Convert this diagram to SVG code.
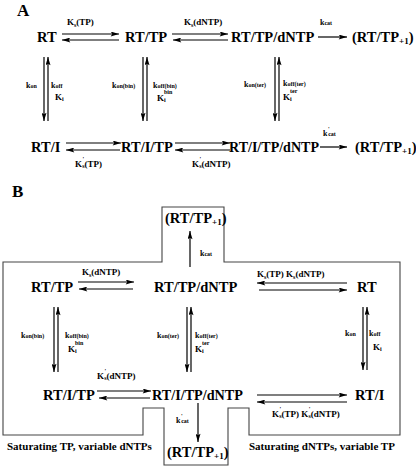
<svg xmlns="http://www.w3.org/2000/svg" width="416" height="468" viewBox="0 0 416 468">
<style>
text{font-family:"Liberation Serif","Times New Roman",serif;font-weight:bold;fill:#000}
.h{font-size:17px}
.n{font-size:14.5px}
.l{font-size:9px}
.k{font-size:8px}
.sb{font-size:6px}
.p{font-size:9px}
.ln{stroke:#000;stroke-width:1.2;fill:none;marker-end:url(#ah)}
.box{stroke:#444;stroke-width:1.1;fill:none}
.cap{font-size:11px}
</style>
<defs>
<marker id="ah" viewBox="0 0 10 6" refX="10" refY="3" markerWidth="9" markerHeight="5" markerUnits="userSpaceOnUse" orient="auto">
<path d="M0,0 L10,3 L0,6 L2,3 Z" fill="#000"/>
</marker>
</defs>
<rect width="416" height="468" fill="#fff"/>

<text class="h" x="17" y="16">A</text>
<text class="h" x="12" y="197">B</text>

<path class="box" d="M162,262 L162,207 L224,207 L224,262 L400,262 L400,435 L249,435 L249,408 L228,408 L228,465 L164,465 L164,408 L143,408 L143,435 L3,435 L3,262 Z"/>

<!-- Nodes A -->
<g id="a-rt"><text class="n" x="37" y="42">RT</text></g>
<g id="a-rttp"><text class="n" x="125" y="42">RT/TP</text></g>
<g id="a-rttpdntp"><text class="n" x="231" y="42">RT/TP/dNTP</text></g>
<g id="a-prod1"><text class="n" x="352" y="42">(RT/TP<tspan class="p" dy="2">+1</tspan><tspan dy="-2">)</tspan></text></g>
<g id="a-rti"><text class="n" x="31" y="152">RT/I</text></g>
<g id="a-rtitp"><text class="n" x="121" y="152">RT/I/TP</text></g>
<g id="a-rtitpdntp"><text class="n" x="229" y="152" textLength="90" lengthAdjust="spacingAndGlyphs">RT/I/TP/dNTP</text></g>
<g id="a-prod2"><text class="n" x="355" y="152">(RT/TP<tspan class="p" dy="2">+1</tspan><tspan dy="-2">)</tspan></text></g>

<!-- Nodes B -->
<g id="b-prodtop"><text class="n" x="165" y="223">(RT/TP<tspan class="p" dy="2">+1</tspan><tspan dy="-2">)</tspan></text></g>
<g id="b-rttp"><text class="n" x="31" y="292">RT/TP</text></g>
<g id="b-rttpdntp"><text class="n" x="154" y="292">RT/TP/dNTP</text></g>
<g id="b-rt"><text class="n" x="357" y="292">RT</text></g>
<g id="b-rtitp"><text class="n" x="43" y="400">RT/I/TP</text></g>
<g id="b-rtitpdntp"><text class="n" x="152" y="400" textLength="91" lengthAdjust="spacingAndGlyphs">RT/I/TP/dNTP</text></g>
<g id="b-rti"><text class="n" x="355" y="400">RT/I</text></g>
<g id="b-prodbot"><text class="n" x="167" y="457">(RT/TP<tspan class="p" dy="2">+1</tspan><tspan dy="-2">)</tspan></text></g>

<!-- Connectors -->
<g id="connectors">
<line class="ln" x1="62" y1="34" x2="119" y2="34"/>
<line class="ln" x1="119" y1="40" x2="62" y2="40"/>
<line class="ln" x1="172" y1="34" x2="228" y2="34"/>
<line class="ln" x1="228" y1="40" x2="173" y2="40"/>
<line class="ln" x1="318" y1="37" x2="347" y2="37"/>
<line class="ln" x1="44" y1="57" x2="44" y2="121"/>
<line class="ln" x1="48" y1="121" x2="48" y2="57"/>
<line class="ln" x1="143" y1="57" x2="143" y2="121"/>
<line class="ln" x1="147" y1="121" x2="147" y2="57"/>
<line class="ln" x1="275" y1="57" x2="275" y2="121"/>
<line class="ln" x1="279" y1="121" x2="279" y2="57"/>
<line class="ln" x1="66" y1="143" x2="121" y2="143"/>
<line class="ln" x1="120" y1="150" x2="66" y2="150"/>
<line class="ln" x1="175" y1="143" x2="230" y2="143"/>
<line class="ln" x1="230" y1="150" x2="175" y2="150"/>
<line class="ln" x1="320" y1="147" x2="347" y2="147"/>

<line class="ln" x1="190" y1="267" x2="190" y2="231"/>
<line class="ln" x1="78" y1="282" x2="134" y2="282"/>
<line class="ln" x1="133" y1="289" x2="79" y2="289"/>
<line class="ln" x1="347" y1="283" x2="257" y2="283"/>
<line class="ln" x1="259" y1="290" x2="347" y2="290"/>
<line class="ln" x1="54" y1="307" x2="54" y2="372"/>
<line class="ln" x1="58" y1="372" x2="58" y2="307"/>
<line class="ln" x1="187" y1="307" x2="187" y2="372"/>
<line class="ln" x1="191" y1="372" x2="191" y2="307"/>
<line class="ln" x1="363" y1="307" x2="363" y2="370"/>
<line class="ln" x1="367" y1="370" x2="367" y2="307"/>
<line class="ln" x1="97" y1="391" x2="151" y2="391"/>
<line class="ln" x1="150" y1="398" x2="99" y2="398"/>
<line class="ln" x1="257" y1="395" x2="347" y2="395"/>
<line class="ln" x1="347" y1="402" x2="257" y2="402"/>
<line class="ln" x1="198" y1="403" x2="198" y2="442"/>
</g>

<!-- Labels A -->
<g id="labels-a">
<text class="l" x="67" y="25">K<tspan class="sb" dy="2">s</tspan><tspan dy="-2">(TP)</tspan></text>
<text class="l" x="184" y="25">K<tspan class="sb" dy="2">s</tspan><tspan dy="-2">(dNTP)</tspan></text>
<text class="k" x="320" y="25">k<tspan class="sb">cat</tspan></text>
<text class="k" x="26" y="88">k<tspan class="sb">on</tspan></text>
<text class="k" x="51" y="88">k<tspan class="sb">off</tspan></text>
<text class="l" x="55" y="100">K<tspan class="sb" dy="1">i</tspan></text>
<text class="k" x="112" y="88">k<tspan class="sb">on(bin)</tspan></text>
<text class="k" x="153" y="88">k<tspan class="sb">off(bin)</tspan></text>
<text class="l" x="157" y="101">K<tspan class="sb" dy="1">i</tspan><tspan class="sb" x="164" y="94">bin</tspan></text>
<text class="k" x="244" y="87">k<tspan class="sb">on(ter)</tspan></text>
<text class="k" x="283" y="86">k<tspan class="sb">off(ter)</tspan></text>
<text class="l" x="283" y="100">K<tspan class="sb" dy="1">i</tspan><tspan class="sb" x="290" y="93">ter</tspan></text>
<text class="l" x="75" y="167">K<tspan class="sb" dx="0.5" dy="-6">'</tspan><tspan class="sb" dx="-2" dy="7">s</tspan><tspan dy="-1">(TP)</tspan></text>
<text class="l" x="192" y="167">K<tspan class="sb" dx="0.5" dy="-6">'</tspan><tspan class="sb" dx="-2" dy="7">s</tspan><tspan dy="-1">(dNTP)</tspan></text>
<text class="k" x="323" y="136">k<tspan class="sb" dx="0.5" dy="-5">'</tspan><tspan class="sb" dx="-1.5" dy="5">cat</tspan></text>
</g>

<!-- Labels B -->
<g id="labels-b">
<text class="k" x="200" y="256">k<tspan class="sb">cat</tspan></text>
<text class="l" x="82" y="275">K<tspan class="sb" dy="2">s</tspan><tspan dy="-2">(dNTP)</tspan></text>
<text class="l" x="257" y="277">K<tspan class="sb" dy="2">s</tspan><tspan dy="-2">(TP)  K</tspan><tspan class="sb" dy="2">s</tspan><tspan dy="-2">(dNTP)</tspan></text>
<text class="k" x="21" y="338">k<tspan class="sb">on(bin)</tspan></text>
<text class="k" x="65" y="338">k<tspan class="sb">off(bin)</tspan></text>
<text class="l" x="68" y="352">K<tspan class="sb" dy="1">i</tspan><tspan class="sb" x="75" y="345">bin</tspan></text>
<text class="k" x="157" y="338">k<tspan class="sb">on(ter)</tspan></text>
<text class="k" x="195" y="338">k<tspan class="sb">off(ter)</tspan></text>
<text class="l" x="195" y="352">K<tspan class="sb" dy="1">i</tspan><tspan class="sb" x="202" y="345">ter</tspan></text>
<text class="k" x="345" y="336">k<tspan class="sb">on</tspan></text>
<text class="k" x="369" y="336">k<tspan class="sb">off</tspan></text>
<text class="l" x="373" y="350">K<tspan class="sb" dy="1">i</tspan></text>
<text class="l" x="97" y="379">K<tspan class="sb" dx="0.5" dy="-6">'</tspan><tspan class="sb" dx="-2" dy="7">s</tspan><tspan dy="-1">(dNTP)</tspan></text>
<text class="l" x="272" y="417">K<tspan class="sb" dx="0.5" dy="-6">'</tspan><tspan class="sb" dx="-2" dy="7">s</tspan><tspan dy="-1">(TP)  K</tspan><tspan class="sb" dx="0.5" dy="-6">'</tspan><tspan class="sb" dx="-2" dy="7">s</tspan><tspan dy="-1">(dNTP)</tspan></text>
<text class="k" x="176" y="423">k<tspan class="sb" dx="0.5" dy="-5">'</tspan><tspan class="sb" dx="-1.5" dy="5">cat</tspan></text>
<text class="cap" x="7" y="450">Saturating TP, variable dNTPs</text>
<text class="cap" x="249" y="450">Saturating dNTPs, variable TP</text>
</g>
</svg>
